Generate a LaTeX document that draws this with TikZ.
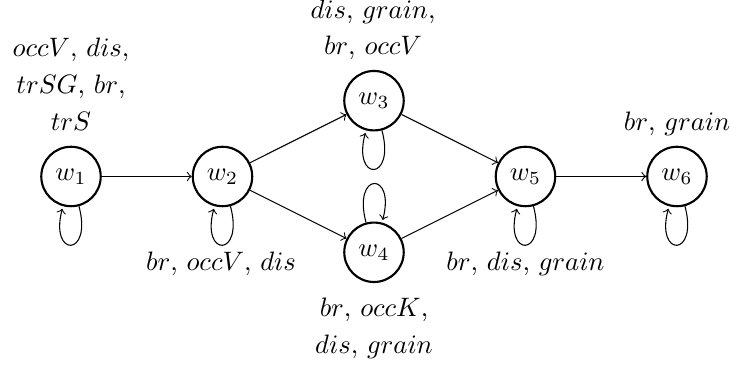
\documentclass[tikz,border=0pt]{standalone}
\begin{document}
\begin{tikzpicture}[x=0.3752pt,y=0.3752pt,>=to,
  state/.style={circle,draw,thick,minimum size=22.3pt,inner sep=1pt},
  lbl/.style={anchor=base,inner sep=0pt},
  every loop/.style={->,shorten >=1pt,min distance=20pt}]
\useasboundingbox (0,0) rectangle (731,367);

% worlds
\node[state] (w1) at (71,190.5)    {$w_1$};
\node[state] (w2) at (222.5,190.5) {$w_2$};
\node[state] (w3) at (374,266.3)   {$w_3$};
\node[state] (w4) at (374,114.7)   {$w_4$};
\node[state] (w5) at (525.5,190.5) {$w_5$};
\node[state] (w6) at (677,190.5)   {$w_6$};

% transitions
\draw[->] (w1) -- (w2);
\draw[->] (w2) -- (w3);
\draw[->] (w2) -- (w4);
\draw[->] (w3) -- (w5);
\draw[->] (w4) -- (w5);
\draw[->] (w5) -- (w6);

% reflexive loops
\draw (w1) edge[loop below] (w1);
\draw (w2) edge[loop below] (w2);
\draw (w3) edge[loop below] (w3);
\draw (w4) edge[loop above] (w4);
\draw (w5) edge[loop below] (w5);
\draw (w6) edge[loop below] (w6);

% valuations
\node[lbl] (v1a) at (71,310)    {$occV$, $dis$,};
\node[lbl] (v1b) at (71,273.3)  {$trSG$, $br$,};
\node[lbl] (v1c) at (71,236.6)  {$trS$};
\node[lbl] (v2)  at (221,96)    {$br$, $occV$, $dis$};
\node[lbl] (v3a) at (373,348.7) {$dis$, $grain$,};
\node[lbl] (v3b) at (373,312)   {$br$, $occV$};
\node[lbl] (v4a) at (374,50.3)  {$br$, $occK$,};
\node[lbl] (v4b) at (374,13.7)  {$dis$, $grain$};
\node[lbl] (v5)  at (525.5,96)  {$br$, $dis$, $grain$};
\node[lbl] (v6)  at (677,236)   {$br$, $grain$};
\end{tikzpicture}
\end{document}
